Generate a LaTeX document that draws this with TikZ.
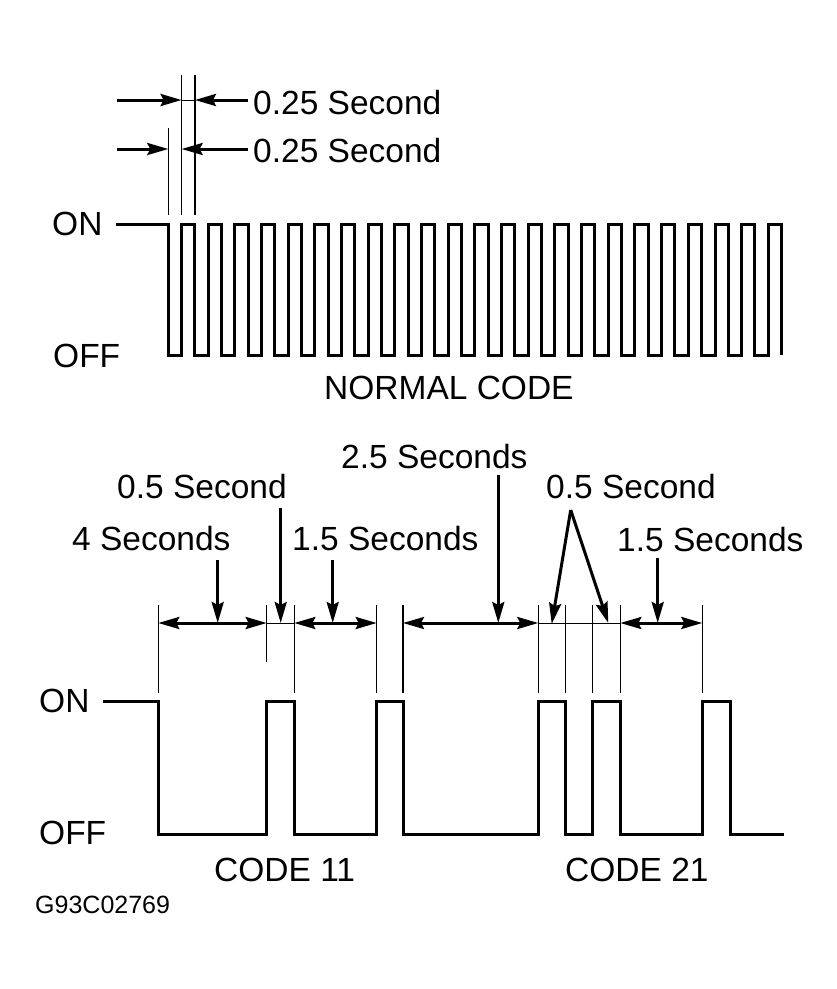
\documentclass[tikz,border=0pt]{standalone}
\usepackage{fontspec}
\setmainfont{Liberation Sans}
\usepackage{tikz}
\usetikzlibrary{arrows.meta}
\tikzset{
 lbl/.style={anchor=west,inner sep=0pt,font=\fontsize{33.5}{36}\selectfont},
 wave/.style={line width=3pt,line join=miter},
 ext/.style={line width=1.3pt},
 thinln/.style={line width=1pt},
 dimline/.style={line width=3pt,{Stealth[length=21pt,width=12pt,inset=3pt]}-{Stealth[length=21pt,width=12pt,inset=3pt]}},
 ptr/.style={line width=3pt,-{Stealth[length=21pt,width=12pt,inset=3pt]}}
}
\begin{document}
\begin{tikzpicture}[x=1pt,y=-1pt]
\useasboundingbox[fill=white](0,0)rectangle(837,989);
% normal code
\node[lbl](onA)at(52,224){ON};\node[lbl](offA)at(53,356){OFF};
\node[lbl](normal)at(324,388){NORMAL CODE};
\draw[wave](116,224)--(168.3,224)--(168.3,355)
 \foreach \i in {0,...,22}{--({181.6+26.67*\i},355)--({181.6+26.67*\i},224)--({194.9+26.67*\i},224)--({194.9+26.67*\i},355)};
\foreach \n/\x/\t in {a/168.3/128,b/181.6/75,c/194.9/75}{\coordinate(t\n)at(\x,\t);\draw[ext](t\n)--(\x,215);}
\coordinate(qa)at(117,100);\coordinate(qb)at(248,100);\coordinate(qc)at(117,149);\coordinate(qd)at(248,149);
\draw[ptr](qa)--(qa-|tb);\draw[ptr](qb)--(qb-|tc);\draw[thinln](qa-|tb)--(qa-|tc);
\draw[ptr](qc)--(qc-|ta);\draw[ptr](qd)--(qd-|tb);
\node[lbl](secA)at(253,103){0.25 Second};\node[lbl](secB)at(253,151){0.25 Second};
% codes 11 and 21
\node[lbl](onB)at(39,701){ON};\node[lbl](offB)at(39,833){OFF};
\node[lbl](c11)at(214,870){CODE 11};\node[lbl](c21)at(565,870){CODE 21};
\node[lbl,font=\fontsize{25}{27}\selectfont](fig)at(35,905){G93C02769};
\draw[wave](103,701)--(158.3,701)--(158.3,834)--(266.7,834)--(266.7,701)--(294.3,701)--(294.3,834)
 --(376.7,834)--(376.7,701)--(403,701)--(403,834)--(538.3,834)--(538.3,701)--(565.7,701)--(565.7,834)
 --(592.7,834)--(592.7,701)--(620.3,701)--(620.3,834)--(702.3,834)--(702.3,701)--(730,701)--(730,834)--(784,834);
\foreach \n/\x in {a/158.3,b/266.7,c/294.3,d/376.7,e/403,f/538.3,g/565.7,h/592.7,i/620.3,j/702.3}
 \coordinate(d\n)at(\x,623);
\foreach \n in {a,c,d,e,f,g,h,i,j}\draw[ext](d\n)++(0,-18)--++(0,88);
\draw[ext](db)++(0,-18)--++(0,57);
\draw[dimline](da)--(db);\draw[thinln](db)--(dc);\draw[dimline](dc)--(dd);
\draw[dimline](de)--(df);\draw[thinln](df)--(di);\draw[dimline](di)--(dj);
\node[lbl](s25)at(341,457){2.5 Seconds};
\node[lbl](h11)at(117,487){0.5 Second};\node[lbl](h21)at(546,487){0.5 Second};
\node[lbl](s4)at(72,539){4 Seconds};
\node[lbl](s15a)at(292,539){1.5 Seconds};\node[lbl](s15b)at(617,540){1.5 Seconds};
\coordinate(p4)at(217.7,560);\coordinate(ph)at(280.7,508);\coordinate(pa)at(332.7,560);
\coordinate(pw)at(498.3,475);\coordinate(pv)at(570.7,510);\coordinate(pb)at(657.7,558);
\draw[ptr](p4)--(p4|-da);\draw[ptr](ph)--(ph|-da);\draw[ptr](pa)--(pa|-da);
\draw[ptr](pw)--(pw|-da);\draw[ptr](pb)--(pb|-da);
\draw[ptr](pv)--(551.7,624);\draw[ptr](pv)--(608.3,623);
\end{tikzpicture}
\end{document}
